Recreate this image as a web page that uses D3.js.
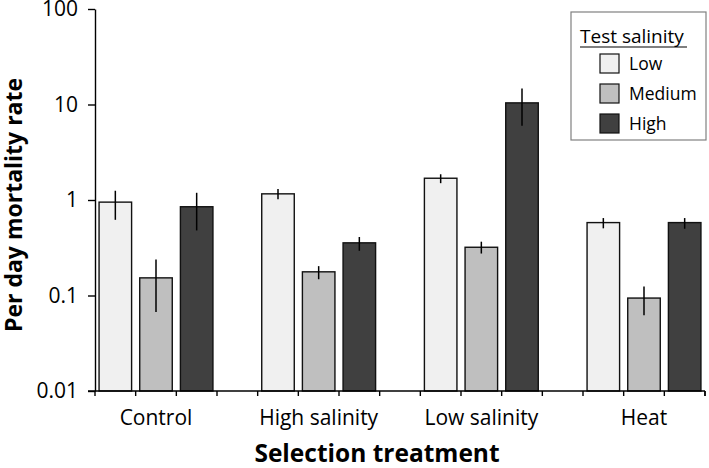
<!DOCTYPE html>
<html>
<head>
<meta charset="utf-8">
<script src="https://cdn.jsdelivr.net/npm/d3@7"></script>
<style>
  html, body { margin: 0; padding: 0; background: #fff; }
  svg { display: block; font-family: "Open Sans", sans-serif; }
</style>
</head>
<body>
<svg id="chart" width="709" height="468"></svg>
<script>
// ---- data ----
const categories = ["Control", "High salinity", "Low salinity", "Heat"];
const series = ["Low", "Medium", "High"];
const lowValues    = [0.95, 1.16, 1.69, 0.58];
const mediumValues = [0.153, 0.177, 0.32, 0.094];
const highValues   = [0.85, 0.356, 10.4, 0.58];
const lowUpper     = [1.25, 1.30, 1.86, 0.647];
const lowLower     = [0.62, 1.02, 1.50, 0.505];
const mediumUpper  = [0.238, 0.203, 0.366, 0.124];
const mediumLower  = [0.067, 0.148, 0.275, 0.062];
const highUpper    = [1.19, 0.41, 14.7, 0.647];
const highLower    = [0.48, 0.294, 5.98, 0.50];
const yTickValues  = [0.01, 0.1, 1, 10, 100];
const yTickLabels  = ["0.01", "0.1", "1", "10", "100"];
const seriesColors = ["#f0f0f0", "#bfbfbf", "#404040"];
const legendTitle = "Test salinity";
const yTitle = "Per day mortality rate";
const xTitle = "Selection treatment";

const valuesBySeries = [lowValues, mediumValues, highValues];
const upperBySeries = [lowUpper, mediumUpper, highUpper];
const lowerBySeries = [lowLower, mediumLower, highLower];

const rows = [];
categories.forEach((c, ci) => {
  series.forEach((s, si) => {
    rows.push({ cat: c, ser: s, value: valuesBySeries[si][ci],
                hi: upperBySeries[si][ci], lo: lowerBySeries[si][ci], color: seriesColors[si] });
  });
});

// ---- layout ----
const svg = d3.select("#chart");
const plotLeft = 95, plotRight = 705, plotTop = 9, plotBottom = 391;
const slotsPerGroup = 4;
const totalSlots = categories.length * slotsPerGroup - 1;
const slot = (plotRight - plotLeft) / totalSlots;

const x0 = d3.scaleBand().domain(categories)
  .range([plotLeft, plotLeft + categories.length * slotsPerGroup * slot]).paddingInner(0).paddingOuter(0);
const x1 = d3.scaleBand().domain([...series, "_gap"])
  .range([0, x0.bandwidth()]).paddingInner(0.2).paddingOuter(0.1);
const step = x1.step();

const y = d3.scaleLog().domain([0.01, 100]).range([plotBottom, plotTop]);

// bars
svg.append("g").selectAll("rect").data(rows).join("rect")
  .attr("x", d => x0(d.cat) + x1(d.ser))
  .attr("y", d => y(d.value))
  .attr("width", x1.bandwidth())
  .attr("height", d => y(0.01) - y(d.value))
  .attr("fill", d => d.color)
  .attr("stroke", "#111")
  .attr("stroke-width", 1.4);

// error bars
svg.append("g").selectAll("line").data(rows).join("line")
  .attr("x1", d => x0(d.cat) + x1(d.ser) + x1.bandwidth() / 2)
  .attr("x2", d => x0(d.cat) + x1(d.ser) + x1.bandwidth() / 2)
  .attr("y1", d => y(d.hi))
  .attr("y2", d => y(d.lo))
  .attr("stroke", "#000")
  .attr("stroke-width", 1.5);

// y axis
const yAxis = svg.append("g").attr("transform", `translate(${plotLeft},0)`)
  .call(d3.axisLeft(y).tickValues(yTickValues)
    .tickFormat((d, i) => yTickLabels[i]).tickSize(7).tickSizeOuter(0).tickPadding(10));
yAxis.select(".domain").attr("stroke", "#000").attr("stroke-width", 1.4);
yAxis.selectAll(".tick line").attr("stroke", "#000").attr("stroke-width", 1.4);
yAxis.selectAll(".tick text").attr("font-size", 21).attr("fill", "#000")
  .attr("font-family", "Open Sans, sans-serif");

// x axis line and slot ticks
const lastGroupEnd = x0(categories[categories.length - 1]) + 3 * step;
const xTicks = [];
categories.forEach(c => { for (let j = 0; j < slotsPerGroup; j++) xTicks.push(x0(c) + j * step); });
xTicks.push(lastGroupEnd);
svg.append("line").attr("x1", plotLeft - 7).attr("x2", lastGroupEnd)
  .attr("y1", plotBottom).attr("y2", plotBottom).attr("stroke", "#000").attr("stroke-width", 1.4);
svg.append("g").selectAll("line").data(xTicks).join("line")
  .attr("x1", d => d).attr("x2", d => d)
  .attr("y1", plotBottom).attr("y2", plotBottom + 5)
  .attr("stroke", "#000").attr("stroke-width", 1.4);

// category labels
svg.append("g").selectAll("text").data(categories).join("text")
  .attr("x", c => x0(c) + 1.5 * step)
  .attr("y", 425)
  .attr("text-anchor", "middle")
  .attr("font-size", 21)
  .attr("fill", "#000")
  .text(c => c);

// axis titles
svg.append("text").attr("x", 377).attr("y", 462)
  .attr("text-anchor", "middle").attr("font-size", 24.5).attr("font-weight", "bold")
  .attr("fill", "#000").text(xTitle);
svg.append("text").attr("transform", "translate(22,205) rotate(-90)")
  .attr("text-anchor", "middle").attr("font-size", 23).attr("font-weight", "bold")
  .attr("fill", "#000").text(yTitle);

// legend
const lg = svg.append("g");
lg.append("rect").attr("x", 571).attr("y", 12).attr("width", 135).attr("height", 128)
  .attr("fill", "#fff").attr("stroke", "#808080").attr("stroke-width", 1.2);
lg.append("text").attr("x", 580).attr("y", 43).attr("font-size", 19)
  .attr("fill", "#000").text(legendTitle);
lg.append("line").attr("x1", 580).attr("x2", 687).attr("y1", 47).attr("y2", 47)
  .attr("stroke", "#000").attr("stroke-width", 1.2);
const items = lg.selectAll("g.item").data(series).join("g").attr("class", "item")
  .attr("transform", (d, i) => `translate(600,${54 + i * 30})`);
items.append("rect").attr("width", 19).attr("height", 19)
  .attr("fill", (d, i) => seriesColors[i]).attr("stroke", "#111").attr("stroke-width", 1.2);
items.append("text").attr("x", 29).attr("y", 16).attr("font-size", 17.5).attr("fill", "#000")
  .text(d => d);
</script>
</body>
</html>
